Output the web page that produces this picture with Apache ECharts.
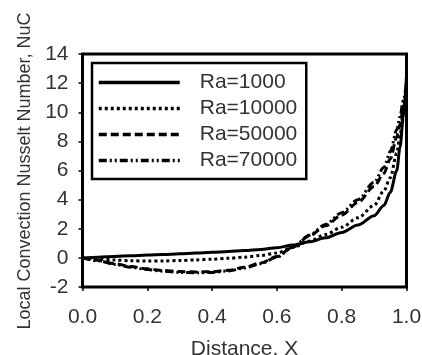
<!DOCTYPE html>
<html>
<head>
<meta charset="utf-8">
<script src="https://cdn.jsdelivr.net/npm/echarts@6/dist/echarts.min.js"></script>
<style>
html,body{margin:0;padding:0;background:#fff;}
#chart{width:422px;height:355px;}
</style>
</head>
<body>
<div id="chart"></div>
<script>
const xValues = [0, 0.05, 0.1, 0.15, 0.2, 0.25, 0.3, 0.35, 0.4, 0.45, 0.5, 0.55, 0.6, 0.65, 0.7, 0.75, 0.8, 0.85, 0.9, 0.93, 0.95, 0.97, 0.98, 0.99, 1.0];
const ra1000  = [0, 0.05, 0.1, 0.15, 0.19, 0.23, 0.28, 0.33, 0.38, 0.44, 0.5, 0.58, 0.7, 0.88, 1.1, 1.38, 1.75, 2.25, 2.9, 3.6, 4.5, 6.0, 7.6, 9.6, 12.5];
const ra10000 = [0, -0.08, -0.15, -0.2, -0.22, -0.21, -0.18, -0.14, -0.09, -0.03, 0.05, 0.16, 0.34, 0.72, 1.15, 1.6, 2.1, 2.75, 3.6, 4.6, 5.5, 7.2, 8.4, 10.0, 12.0];
const ra50000 = [0, -0.18, -0.4, -0.6, -0.75, -0.87, -0.94, -0.97, -0.95, -0.85, -0.65, -0.35, 0.1, 0.75, 1.5, 2.2, 2.95, 3.8, 4.9, 5.8, 6.8, 8.3, 9.2, 10.3, 11.5];
const ra70000 = [0, -0.2, -0.45, -0.65, -0.8, -0.92, -1.0, -1.02, -1.0, -0.9, -0.7, -0.4, 0.05, 0.75, 1.55, 2.3, 3.1, 4.0, 5.2, 6.2, 7.3, 8.8, 9.7, 10.8, 12.0];
const seriesNames = ['Ra=1000', 'Ra=10000', 'Ra=50000', 'Ra=70000'];
const seriesValues = [ra1000, ra10000, ra50000, ra70000];
const lineTypes = ['solid', [3, 3], [8, 4], [8, 3, 2, 3, 2, 3]];
const xTitle = 'Distance, X';
const yTitle = 'Local Convection Nusselt Number, NuC';

const font = 'Liberation Sans, Arial, sans-serif';
const chart = echarts.init(document.getElementById('chart'), null, {renderer: 'canvas'});

const series = seriesNames.map((name, i) => ({
  name: name,
  type: 'line',
  data: xValues.map((x, j) => [x, seriesValues[i][j]]),
  showSymbol: false,
  symbol: 'none',
  smooth: 0.3,
  smoothMonotone: 'x',
  lineStyle: {color: '#000', width: 3, type: lineTypes[i]},
  itemStyle: {color: '#000'},
  z: 3
}));

chart.setOption({
  animation: false,
  backgroundColor: '#fff',
  grid: {left: 82.5, right: 15.5, top: 54, bottom: 68, outerBoundsMode: 'none', containLabel: false, show: true, borderColor: '#000', borderWidth: 3, backgroundColor: 'transparent'},
  legend: {
    orient: 'vertical', left: 92, top: 63,
    padding: [9, 9, 8, 5],
    itemWidth: 81, itemHeight: 14, itemGap: 5,
    borderColor: '#000', borderWidth: 2.5, backgroundColor: '#fff',
    itemStyle: {opacity: 0},
    lineStyle: {width: 3.5},
    textStyle: {fontSize: 21, color: '#333', fontFamily: font, padding: [0, 0, 0, 15]},
    data: seriesNames
  },
  graphic: [{
    type: 'text',
    x: 25, y: 171,
    rotation: Math.PI / 2,
    style: {text: yTitle, fontSize: 18, fontFamily: font, fill: '#333', align: 'center', verticalAlign: 'middle'}
  }],
  xAxis: {
    type: 'value', min: 0, max: 1, interval: 0.2,
    name: xTitle, nameLocation: 'middle', nameGap: 52,
    nameTextStyle: {fontSize: 21, color: '#333', fontFamily: font},
    axisLine: {show: false, onZero: false},
    axisTick: {show: true, length: 4, lineStyle: {color: '#000', width: 1.5}},
    axisLabel: {fontSize: 21, color: '#333', fontFamily: font, margin: 20, formatter: v => v.toFixed(1)},
    splitLine: {show: false}
  },
  yAxis: {
    type: 'value', min: -2, max: 14, interval: 2,
    axisLine: {show: false, onZero: false},
    axisTick: {show: true, length: 4, lineStyle: {color: '#000', width: 1.5}},
    axisLabel: {fontSize: 21, color: '#333', fontFamily: font, margin: 14},
    splitLine: {show: false}
  },
  series: series
});
</script>
</body>
</html>
